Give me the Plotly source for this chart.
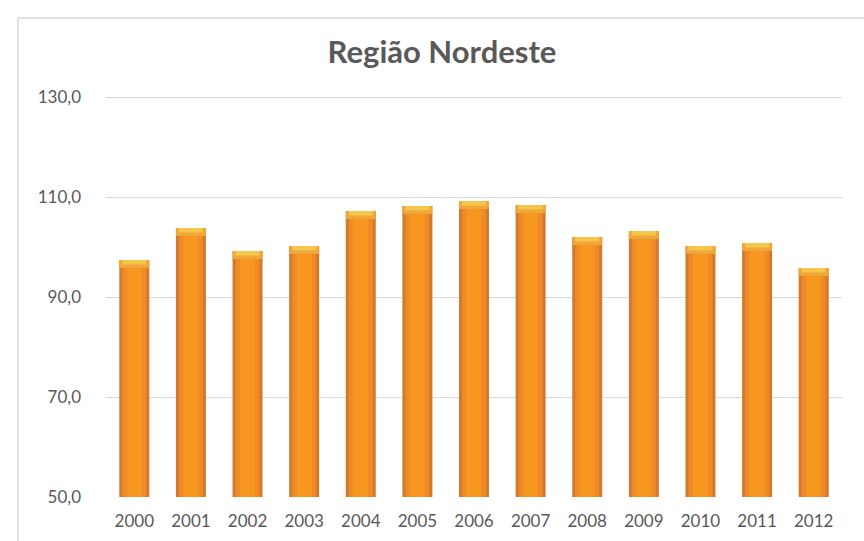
import plotly.graph_objects as go

years = ["2000", "2001", "2002", "2003", "2004", "2005", "2006",
         "2007", "2008", "2009", "2010", "2011", "2012"]
values = [97.4, 103.8, 99.2, 100.2, 107.2, 108.2, 109.2,
          108.4, 102.0, 103.2, 100.2, 100.8, 95.8]

W, H = 864, 541
L, R, T, B = 106, 22, 95, 44
pw = W - L - R
ph = H - T - B

BW = 0.53  # bar width (category units)
fig = go.Figure()
# outer (darker edges)
fig.add_trace(go.Bar(x=years, y=values, width=BW,
                     marker=dict(color="#D27A2E", line=dict(width=0)),
                     hoverinfo="x+y"))
# mid body
fig.add_trace(go.Bar(x=years, y=values, width=BW * 0.8,
                     marker=dict(color="#EE8A27", line=dict(width=0)),
                     hoverinfo="skip"))
# bright centre
fig.add_trace(go.Bar(x=years, y=values, width=BW * 0.5,
                     marker=dict(color="#F8971F", line=dict(width=0)),
                     hoverinfo="skip"))
# top cap highlight
cap1 = 1.6
cap2 = 0.9
fig.add_trace(go.Bar(x=years, y=[cap1] * len(values), base=[v - cap1 for v in values],
                     width=BW, marker=dict(color="#EFA63A", line=dict(width=0)),
                     hoverinfo="skip"))
fig.add_trace(go.Bar(x=years, y=[cap2] * len(values), base=[v - cap2 for v in values],
                     width=BW * 0.8, marker=dict(color="#F6C64A", line=dict(width=0)),
                     hoverinfo="skip"))

font = "Lato, 'Open Sans', sans-serif"
fig.update_layout(
    width=W, height=H,
    margin=dict(l=L, r=R, t=T, b=B, autoexpand=False),
    paper_bgcolor="white", plot_bgcolor="white",
    separators=",.",
    barmode="overlay",
    showlegend=False,
    font=dict(family=font, color="#595959", size=17),
    title=dict(text="<b>Região Nordeste</b>", x=442 / W, xref="container",
               xanchor="center", y=1 - 52 / H, yref="container", yanchor="middle",
               font=dict(size=31, color="#595959", family=font)),
    xaxis=dict(showgrid=False, showline=False, ticks="", automargin=False,
               tickfont=dict(size=17, color="#595959"), ticklabelstandoff=12),
    yaxis=dict(range=[50, 130.4], tickvals=[50, 70, 90, 110, 130], tickformat=".1f",
               showgrid=True, gridcolor="#D9D9D9", gridwidth=1, zeroline=False,
               showline=False, ticks="", automargin=False,
               tickfont=dict(size=17, color="#595959"), ticklabelstandoff=24),
)
# chart frame
fig.add_shape(type="rect", xref="paper", yref="paper",
              x0=(18 - L) / pw, x1=1.2, y0=-0.3, y1=(H - B - 18) / ph,
              line=dict(color="#D9D9D9", width=1.5), layer="below")
fig.write_html("out.html", config={"displayModeBar": False},
               post_script="document.body.style.margin='0';")
